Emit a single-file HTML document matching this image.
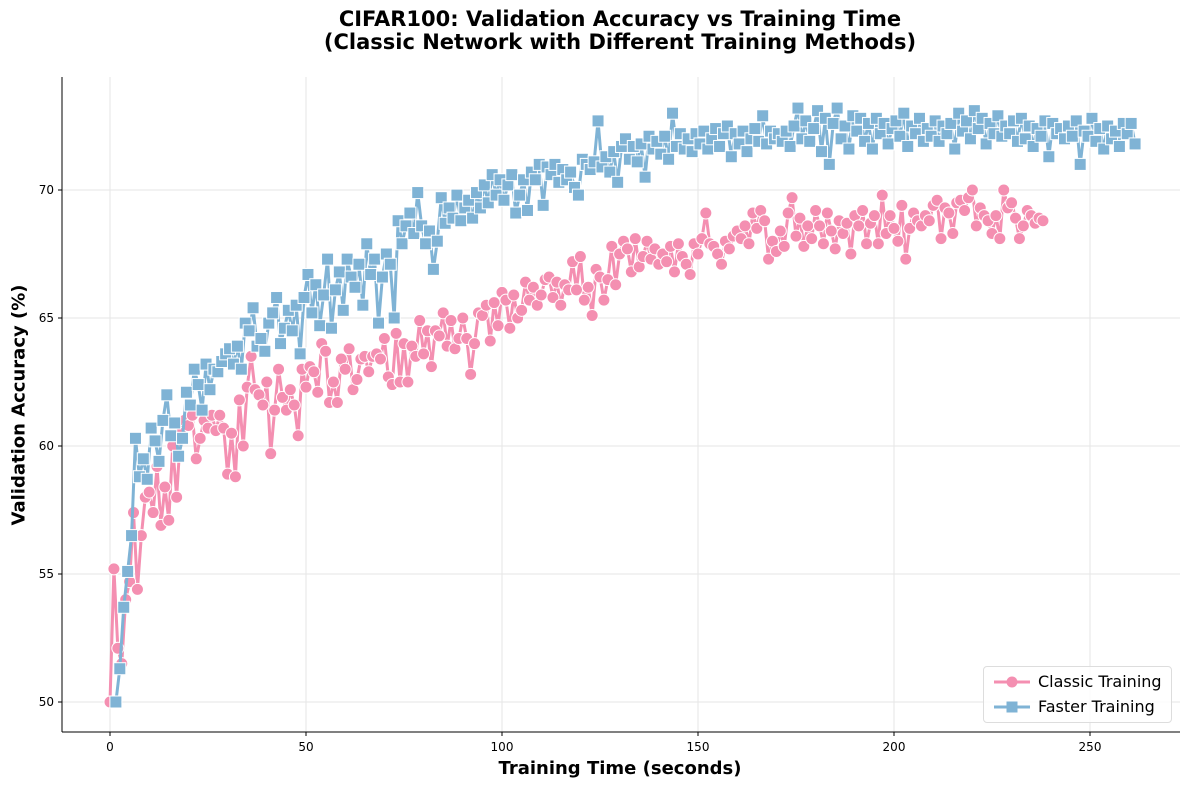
<!DOCTYPE html>
<html><head><meta charset="utf-8"><style>
body{margin:0;background:#fff;font-family:"DejaVu Sans","Liberation Sans",sans-serif}
</style></head><body>
<svg id="c" width="1189" height="790" xmlns="http://www.w3.org/2000/svg"></svg>
<script>
const classicX0 = 0, classicStep = 1;
const classicY = [50,55.2,52.1,51.5,54,54.7,57.4,54.4,56.5,58,58.2,57.4,59.2,56.9,58.4,57.1,60,58,60.5,61,60.8,61.2,59.5,60.3,61,60.7,61.2,60.6,61.2,60.7,58.9,60.5,58.8,61.8,60,62.3,63.5,62.2,62,61.6,62.5,59.7,61.4,63,61.9,61.4,62.2,61.6,60.4,63,62.3,63.1,62.9,62.1,64,63.7,61.7,62.5,61.7,63.4,63,63.8,62.2,62.6,63.4,63.5,62.9,63.5,63.6,63.4,64.2,62.7,62.4,64.4,62.5,64,62.5,63.9,63.5,64.9,63.6,64.5,63.1,64.5,64.3,65.2,63.9,64.9,63.8,64.2,65,64.2,62.8,64,65.2,65.1,65.5,64.1,65.6,64.7,66,65.7,64.6,65.9,65,65.3,66.4,65.7,66.2,65.5,65.9,66.5,66.6,65.8,66.4,65.5,66.3,66.1,67.2,66.1,67.4,65.7,66.2,65.1,66.9,66.6,65.7,66.5,67.8,66.3,67.5,68,67.7,66.8,68.1,67,67.4,68,67.3,67.7,67.1,67.5,67.2,67.8,66.8,67.9,67.4,67.1,66.7,67.9,67.5,68.1,69.1,67.9,67.8,67.5,67.1,68,67.7,68.2,68.4,68.1,68.6,67.9,69.1,68.5,69.2,68.8,67.3,68,67.6,68.4,67.8,69.1,69.7,68.2,68.9,67.8,68.6,68.1,69.2,68.6,67.9,69.1,68.4,67.7,68.8,68.3,68.7,67.5,69,68.6,69.2,67.9,68.7,69,67.9,69.8,68.3,69,68.5,68,69.4,67.3,68.5,69.1,68.8,68.6,69,68.8,69.4,69.6,68.1,69.3,69.1,68.3,69.5,69.6,69.2,69.7,70,68.6,69.3,69,68.8,68.3,69,68.1,70,69.3,69.5,68.9,68.1,68.6,69.2,69,68.7,68.9,68.8];
const fasterX0 = 1.5, fasterStep = 1;
const fasterY = [50,51.3,53.7,55.1,56.5,60.3,58.8,59.5,58.7,60.7,60.2,59.4,61,62,60.4,60.9,59.6,60.3,62.1,61.6,63,62.4,61.4,63.2,62.2,63,62.9,63.3,63.6,63.8,63.2,63.9,63,64.8,64.5,65.4,63.9,64.2,63.7,64.8,65.2,65.8,64,64.6,65.3,64.5,65.5,63.6,65.8,66.7,65.2,66.3,64.7,65.9,67.3,64.6,66.1,66.8,65.3,67.3,66.6,66.2,67.1,65.5,67.9,66.7,67.3,64.8,66.6,67.5,67.1,65,68.8,67.9,68.6,69.1,68.3,69.9,68.6,67.9,68.4,66.9,68,69.7,68.7,69.3,68.9,69.8,68.8,69.3,69.6,68.9,69.9,69.3,70.2,69.5,70.6,69.8,70.4,69.6,70.2,70.6,69.1,69.8,70.4,69.2,70.7,70.4,71,69.4,70.9,70.6,71,70.3,70.8,70.4,70.7,70.1,69.8,71.2,71,70.8,71.1,72.7,70.9,71.3,70.7,71.5,70.3,71.7,72,71.2,71.7,71.1,71.8,70.5,72.1,71.6,71.9,71.4,72.1,71.2,73,71.7,72.2,71.6,72,71.5,72.2,71.8,72.3,71.6,72,72.4,71.7,72.2,72.5,71.3,72.2,71.8,72.3,71.5,72,72.4,71.9,72.9,71.8,72.3,72,72.2,71.9,72.3,71.7,72.5,73.2,72,72.7,71.9,72.4,73.1,71.5,72.8,71,72.6,73.2,72,72.5,71.6,72.9,72.3,72.8,71.9,72.6,71.6,72.8,72.2,72.6,71.8,72.4,72.7,72.1,73,71.7,72.5,72.2,72.8,71.9,72.4,72.1,72.7,71.9,72.5,72.2,72.6,71.6,73,72.3,72.7,72,73.1,72.4,72.8,71.8,72.6,72.2,72.9,72.1,72.5,72.2,72.7,71.9,72.8,72,72.5,71.7,72.4,72.1,72.7,71.3,72.6,72.2,72.4,72,72.5,72.1,72.7,71,72.3,72.1,72.8,71.9,72.4,71.6,72.5,72,72.3,71.7,72.6,72.2,72.6,71.8];
const xTicks = [0,50,100,150,200,250];
const yTicks = [50,55,60,65,70];

const NS="http://www.w3.org/2000/svg", svg=document.getElementById('c');
const L=62,R=1180,T=77,B=732;
const xs=v=>110+(v)*3.92, ys=v=>702-(v-50)*25.6;
function mk(t,a,p){const e=document.createElementNS(NS,t);for(const k in a)e.setAttribute(k,a[k]);(p||svg).appendChild(e);return e;}
const grid=mk('g',{});


xTicks.forEach(v=>{mk('line',{x1:xs(v),x2:xs(v),y1:T,y2:B,stroke:'#e5e5e5'},grid);
 const t=mk('text',{x:xs(v),y:B+19,'text-anchor':'middle','font-size':12});t.textContent=v;
 
 mk('line',{x1:xs(v),x2:xs(v),y1:B,y2:B+4,stroke:'#000'});});
yTicks.forEach(v=>{mk('line',{x1:L,x2:R,y1:ys(v),y2:ys(v),stroke:'#e5e5e5'},grid);
 const t=mk('text',{x:L-8,y:ys(v)+4,'text-anchor':'end','font-size':12});t.textContent=v;
 
 mk('line',{x1:L-4,x2:L,y1:ys(v),y2:ys(v),stroke:'#000'});});
mk('line',{x1:L,x2:L,y1:T,y2:B,stroke:'#000'});
mk('line',{x1:L,x2:R,y1:B,y2:B,stroke:'#000'});
function series(x0,st,arr,col,sq,name){
 const g=mk('g',{});
 
 
 const pts=arr.map((v,i)=>[xs(x0+i*st),ys(v)]);
 mk('polyline',{points:pts.map(p=>p.join(',')).join(' '),fill:'none',stroke:col,'stroke-width':3},g);
 pts.forEach(p=>{const m=sq?mk('rect',{x:p[0]-6,y:p[1]-6,width:12,height:12,fill:col,stroke:'#fff','stroke-width':1},g):mk('circle',{cx:p[0],cy:p[1],r:6,fill:col,stroke:'#fff','stroke-width':1},g);
  });
}
series(classicX0,classicStep,classicY,'#f48fb1',false,'classic-series');
series(fasterX0,fasterStep,fasterY,'#7fb3d5',true,'faster-series');
</script>
<div style="position:absolute;left:0;top:8px;width:1240px;text-align:center;font-weight:bold;font-size:21px;line-height:23px">CIFAR100: Validation Accuracy vs Training Time<br>(Classic Network with Different Training Methods)</div>
<div style="position:absolute;left:0;top:758px;width:1240px;text-align:center;font-weight:bold;font-size:18px">Training Time (seconds)</div>
<div style="position:absolute;left:19px;top:405px;transform:translate(-50%,-50%) rotate(-90deg);white-space:nowrap;font-weight:bold;font-size:18px">Validation Accuracy (%)</div>
<div style="position:absolute;left:983px;top:666px;width:187px;height:55px;border:1px solid #ddd;border-radius:4px;background:rgba(255,255,255,.85);font-size:16px">
 <div style="position:absolute;left:8px;top:5px;display:flex;align-items:center"><svg width="40" height="18"><line x1="2" y1="9" x2="38" y2="9" stroke="#f48fb1" stroke-width="3"/><circle cx="20" cy="9" r="5.5" fill="#f48fb1"/></svg><span style="margin-left:6px">Classic Training</span></div>
 <div style="position:absolute;left:8px;top:30px;display:flex;align-items:center"><svg width="40" height="18"><line x1="2" y1="9" x2="38" y2="9" stroke="#7fb3d5" stroke-width="3"/><rect x="14.5" y="3.5" width="11" height="11" fill="#7fb3d5"/></svg><span style="margin-left:6px">Faster Training</span></div>
</div>
</body></html>
